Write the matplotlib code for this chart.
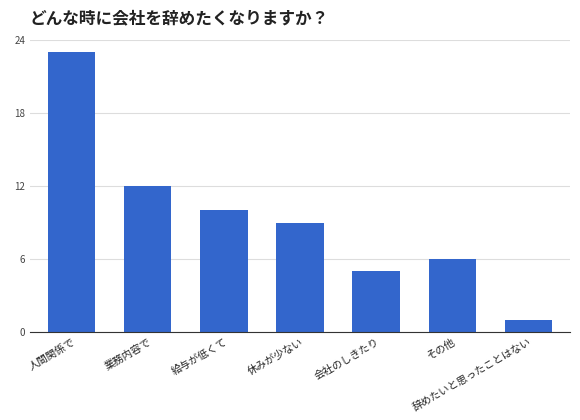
import matplotlib
matplotlib.use("Agg")
import matplotlib.pyplot as plt

plt.rcParams['font.family'] = ['Noto Sans CJK JP', 'DejaVu Sans']

categories = ["人間関係で", "業務内容で", "給与が低くて", "休みが少ない", "会社のしきたり", "その他", "辞めたいと思ったことはない"]
values = [23, 12, 10, 9, 5, 6, 1]
yticks = [0, 6, 12, 18, 24]

fig = plt.figure(figsize=(5.8, 4.2), dpi=100)
ax = fig.add_axes([30/580, 1-332/420, 540/580, 292/420])
x = range(len(categories))
ax.bar(x, values, width=0.62, color="#3366cc", zorder=2)
ax.set_ylim(0, 24)
ax.set_xlim(-0.55, len(categories)-0.45)
ax.set_yticks(yticks)
ax.set_yticklabels([str(t) for t in yticks], fontsize=7, color="#444444")
ax.yaxis.grid(True, color="#dddddd", linewidth=0.8, zorder=0)
ax.set_xticks(list(x))
ax.set_xticklabels(categories, rotation=30, ha="right", fontsize=7.5, color="#222222", rotation_mode="anchor")
ax.tick_params(axis='both', length=0)
for s in ["top", "right", "left"]:
    ax.spines[s].set_visible(False)
ax.spines["bottom"].set_color("#333333")
fig.text(30/580, 1-18/420, "どんな時に会社を辞めたくなりますか？", fontsize=12, fontweight="bold", va="center", ha="left", color="#222222")
fig.savefig("out.png", dpi=100)
